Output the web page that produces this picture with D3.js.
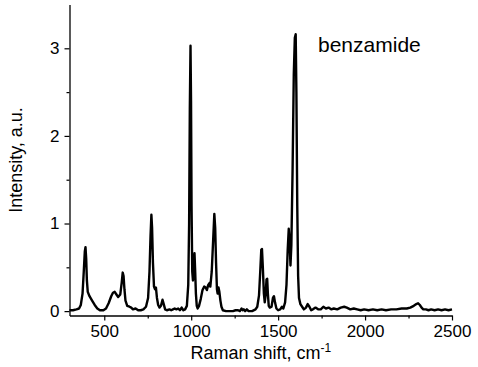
<!DOCTYPE html>
<html>
<head>
<meta charset="utf-8">
<script src="https://cdn.jsdelivr.net/npm/d3@7/dist/d3.min.js"></script>
<style>
  html, body { margin: 0; padding: 0; background: #fff; }
  svg { display: block; }
  text { font-family: Arial, "Liberation Sans", sans-serif; fill: #000; }
</style>
</head>
<body>
<svg id="chart" width="478" height="367"></svg>
<script>
// Raman spectrum of benzamide: shift (cm-1) and intensity (a.u.)
const ramanShift = [
  300, 320, 340, 355, 365, 375, 382, 388, 392, 396, 400, 405, 415, 430, 445, 460, 475, 495,
  510, 525, 540, 550, 560, 570, 580, 592, 600, 606, 611, 616, 622, 632, 645, 655, 665, 680,
  695, 710, 725, 740, 752, 760, 766, 771, 775, 780, 786, 792, 797, 803, 810, 818, 826, 835,
  842, 850, 860, 875, 885, 895, 905, 915, 925, 935, 945, 955, 965, 975, 983, 988, 992, 996,
  999, 1002, 1006, 1010, 1015, 1019, 1023, 1027, 1032, 1037, 1045, 1055, 1065, 1075, 1083,
  1090, 1098, 1105, 1110, 1118, 1126, 1133, 1138, 1143, 1148, 1152, 1157, 1162, 1168, 1174,
  1182, 1200, 1220, 1240, 1255, 1270, 1280, 1290, 1296, 1302, 1310, 1320, 1330, 1350, 1370,
  1380, 1390, 1397, 1403, 1407, 1412, 1418, 1423, 1428, 1433, 1437, 1441, 1446, 1452, 1462,
  1470, 1476, 1482, 1490, 1500, 1512, 1522, 1530, 1540, 1548, 1555, 1561, 1566, 1571, 1576,
  1583, 1590, 1596, 1601, 1605, 1610, 1615, 1620, 1628, 1638, 1648, 1660, 1670, 1680, 1690,
  1700, 1715, 1730, 1745, 1760, 1775, 1790, 1805, 1820, 1840, 1860, 1880, 1895, 1915, 1935,
  1955, 1975, 1995, 2020, 2045, 2070, 2095, 2120, 2150, 2180, 2210, 2240, 2260, 2280, 2295,
  2305, 2315, 2325, 2335, 2350, 2365, 2380, 2400, 2420, 2440, 2460, 2480, 2500
];
const intensity = [
  0.01, 0.01, 0.02, 0.03, 0.07, 0.20, 0.45, 0.68, 0.73, 0.60, 0.35, 0.22, 0.17, 0.12, 0.07, 0.03, 0.01, 0.01,
  0.03, 0.09, 0.17, 0.21, 0.22, 0.19, 0.16, 0.19, 0.32, 0.44, 0.40, 0.25, 0.12, 0.06, 0.05, 0.04, 0.02, 0.03,
  0.01, 0.01, 0.02, 0.05, 0.15, 0.45, 0.85, 1.10, 0.95, 0.55, 0.28, 0.25, 0.27, 0.15, 0.07, 0.04, 0.06, 0.13,
  0.08, 0.02, 0.01, 0.02, 0.01, 0.02, 0.03, 0.02, 0.03, 0.01, 0.04, 0.01, 0.02, 0.06, 0.30, 1.00, 2.30, 3.03,
  2.40, 1.20, 0.45, 0.35, 0.45, 0.66, 0.45, 0.20, 0.06, 0.03, 0.06, 0.14, 0.24, 0.28, 0.27,
  0.24, 0.30, 0.32, 0.28, 0.45, 0.80, 1.11, 0.95, 0.55, 0.25, 0.20, 0.27, 0.22, 0.12, 0.05,
  0.01, 0.00, 0.00, 0.00, 0.01, 0.01, 0.00, 0.03, 0.01, 0.02, 0.00, 0.02, 0.00, 0.00, 0.02,
  0.05, 0.18, 0.45, 0.70, 0.71, 0.50, 0.20, 0.10, 0.18, 0.36, 0.37, 0.20, 0.06, 0.04, 0.05,
  0.15, 0.17, 0.10, 0.03, 0.01, 0.02, 0.05, 0.03, 0.10, 0.30, 0.70, 0.94, 0.80, 0.52, 0.75,
  1.60, 2.70, 3.12, 3.16, 2.50, 1.20, 0.40, 0.15, 0.08, 0.05, 0.02, 0.04, 0.08, 0.05, 0.01,
  0.02, 0.04, 0.02, 0.02, 0.05, 0.03, 0.04, 0.02, 0.03, 0.02, 0.04, 0.05, 0.04, 0.02, 0.03,
  0.02, 0.01, 0.02, 0.01, 0.02, 0.01, 0.02, 0.01, 0.02, 0.02, 0.03, 0.03, 0.04, 0.06, 0.08,
  0.09, 0.07, 0.04, 0.02, 0.02, 0.01, 0.02, 0.01, 0.02, 0.01, 0.02, 0.01, 0.02
];
const xTickValues = [500, 1000, 1500, 2000, 2500];
const xMinorTicks = [750, 1250, 1750, 2250];
const yTickValues = [0, 1, 2, 3];
const yMinorTicks = [0.5, 1.5, 2.5];
const sampleName = "benzamide";

const svg = d3.select("#chart");
const plotLeft = 69.5, plotRight = 452, plotTop = 4.5, plotBottom = 315.5;

const x = d3.scaleLinear().domain([300, 2500]).range([plotLeft, plotRight]);
const y = d3.scaleLinear().domain([-0.05, 3.5]).range([plotBottom, plotTop]);

const points = ramanShift.map((s, i) => [s, intensity[i]]);

// spectrum trace
svg.append("path")
  .datum(points)
  .attr("fill", "none")
  .attr("stroke", "#000")
  .attr("stroke-width", 2.4)
  .attr("stroke-linejoin", "round")
  .attr("d", d3.line().x(d => x(d[0])).y(d => y(d[1])));

const fmt = d3.format("d");

// bottom axis
svg.append("g").attr("transform", `translate(0,${plotBottom})`)
  .call(d3.axisBottom(x).tickValues(xTickValues).tickFormat(fmt).tickSize(5).tickPadding(4).tickSizeOuter(0));
svg.append("g").attr("transform", `translate(0,${plotBottom})`)
  .call(d3.axisBottom(x).tickValues(xMinorTicks).tickSize(3).tickFormat("").tickSizeOuter(0))
  .select(".domain").remove();

// left axis
svg.append("g").attr("transform", `translate(${plotLeft},0)`)
  .call(d3.axisLeft(y).tickValues(yTickValues).tickFormat(fmt).tickSize(5).tickPadding(5).tickSizeOuter(0));
svg.append("g").attr("transform", `translate(${plotLeft},0)`)
  .call(d3.axisLeft(y).tickValues(yMinorTicks).tickSize(3).tickFormat("").tickSizeOuter(0))
  .select(".domain").remove();

svg.selectAll(".domain").attr("stroke-width", 1.3);
svg.selectAll(".tick line").attr("stroke-width", 1.2);
svg.selectAll(".tick text").attr("font-size", 17).attr("font-family", "Arial, 'Liberation Sans', sans-serif");

// axis titles
const xt = svg.append("text")
  .attr("x", (plotLeft + plotRight) / 2)
  .attr("y", 359)
  .attr("text-anchor", "middle")
  .attr("font-size", 18);
xt.append("tspan").text("Raman shift, cm");
xt.append("tspan").attr("font-size", 12).attr("dy", -7).text("-1");

svg.append("text")
  .attr("transform", `translate(22,${(plotTop + plotBottom) / 2}) rotate(-90)`)
  .attr("text-anchor", "middle")
  .attr("font-size", 18)
  .text("Intensity, a.u.");

// sample label
svg.append("text")
  .attr("x", 318)
  .attr("y", 52)
  .attr("font-size", 21)
  .text(sampleName);
</script>
</body>
</html>
